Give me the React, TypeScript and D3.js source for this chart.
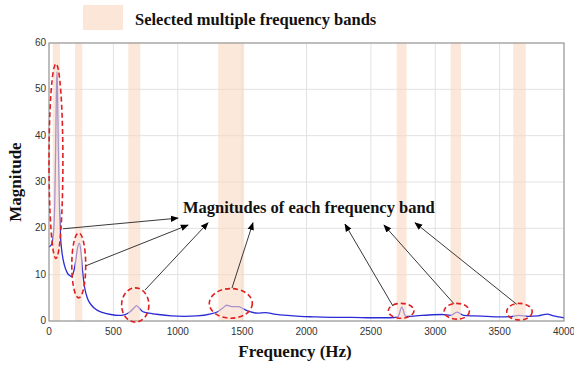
import * as d3 from 'd3'

// spectrum samples
const freq = [0, 20, 35, 45, 52, 58, 62, 66, 72, 80, 90, 100, 120, 140, 160, 175, 190, 205, 220, 235, 248, 260, 275, 300, 330, 370, 420, 480, 540, 590, 630, 660, 680, 700, 730, 780, 850, 950, 1050, 1150, 1250, 1310, 1350, 1380, 1420, 1470, 1510, 1560, 1620, 1680, 1750, 1850, 1950, 2050, 2200, 2350, 2500, 2650, 2710, 2740, 2770, 2850, 2950, 3050, 3120, 3170, 3220, 3300, 3400, 3500, 3600, 3650, 3720, 3800, 3870, 3920, 3960, 4000]
const magnitude = [16, 16.5, 19, 26, 38, 50, 53.8, 50, 38, 26, 18, 15, 12, 10.5, 9.8, 9.6, 10.5, 12.5, 15.5, 16.8, 15, 11, 7.5, 4.8, 3.4, 2.4, 1.8, 1.4, 1.2, 1.4, 2.0, 2.8, 3.3, 2.8, 2.0, 1.7, 1.4, 1.1, 1.0, 1.1, 1.5, 2.0, 2.8, 3.4, 3.1, 3.1, 2.6, 2.0, 1.7, 1.8, 1.5, 1.2, 1.0, 0.9, 0.8, 0.8, 0.7, 0.7, 0.9, 3.0, 1.0, 1.1, 1.3, 1.4, 1.2, 1.9, 1.2, 1.1, 1.0, 0.9, 1.0, 1.2, 1.0, 1.1, 1.5, 1.1, 0.9, 0.7]

// selected frequency bands [start, end] in Hz
const bands = [[29, 85], [202, 258], [616, 709], [1314, 1516], [2700, 2778], [3119, 3200], [3606, 3703]]

// highlighted peaks: [centre Hz, centre magnitude, radius Hz, radius magnitude]
const peakMarks = [[54, 34.5, 54, 21], [231, 12, 54, 7], [670, 3.45, 106, 3.7], [1412, 3.8, 167, 3.2], [2735, 2.2, 100, 1.6], [3167, 2.1, 98, 1.7], [3654, 2.0, 99, 1.8]]

// annotation arrows: [from Hz, from mag, to Hz, to mag]
const arrows = [[109, 19.9, 1002, 22.2], [285, 11.9, 1080, 20.7], [746, 6.7, 1235, 21.2], [1421, 7.1, 1584, 21.2], [2672, 3.2, 2299, 20.9], [3146, 3.7, 2602, 20.7], [3633, 3.6, 2843, 21.2]]

const xTicks = [0, 500, 1000, 1500, 2000, 2500, 3000, 3500, 4000]
const yTicks = [0, 10, 20, 30, 40, 50, 60]

export default function App() {
  const width = 574
  const height = 365
  const margin = { top: 43, right: 10, bottom: 44, left: 49 }

  const x = d3.scaleLinear().domain([0, 4000]).range([margin.left, width - margin.right])
  const y = d3.scaleLinear().domain([0, 60]).range([height - margin.bottom, margin.top])

  const points = freq.map((f, i) => [f, magnitude[i]])
  const line = d3.line().x(d => x(d[0])).y(d => y(d[1])).curve(d3.curveMonotoneX)

  const serif = '"Liberation Serif", "Times New Roman", serif'
  const sans = '"Liberation Sans", Arial, sans-serif'
  const bandColor = '#fad8c3'

  return (
    <svg width={width} height={height} style={{ position: 'absolute', left: 0, top: 0, background: '#fff' }}>
      <defs>
        <marker id="arrowHead" viewBox="0 0 10 10" refX="9" refY="5" markerWidth="8" markerHeight="8" orient="auto" markerUnits="userSpaceOnUse">
          <path d="M0,1 L10,5 L0,9 Z" fill="#000" />
        </marker>
      </defs>

      {/* legend */}
      <rect x={83} y={5} width={40} height={25} fill={bandColor} opacity={0.65} />
      <text x={135} y={25} fontFamily={serif} fontWeight="bold" fontSize={16.5} fill="#111">Selected multiple frequency bands</text>

      {/* grid */}
      {xTicks.map(t => (
        <line key={'gx' + t} x1={x(t)} x2={x(t)} y1={y(0)} y2={y(60)} stroke="#e2e2e2" strokeWidth={1} />
      ))}
      {yTicks.map(t => (
        <line key={'gy' + t} x1={x(0)} x2={x(4000)} y1={y(t)} y2={y(t)} stroke="#e2e2e2" strokeWidth={1} />
      ))}

      <path d={line(points) || ''} fill="none" stroke="#2b2bd6" strokeWidth={1.3} />

      {/* bands drawn over the trace, so the line shows lilac inside */}
      {bands.map((b, i) => (
        <rect key={'b' + i} x={x(b[0])} width={x(b[1]) - x(b[0])} y={y(60)} height={y(0) - y(60)} fill={bandColor} opacity={0.6} />
      ))}

      {/* axes box */}
      <rect x={x(0)} y={y(60)} width={x(4000) - x(0)} height={y(0) - y(60)} fill="none" stroke="#8a8a8a" strokeWidth={1} />

      {xTicks.map(t => (
        <text key={'tx' + t} x={x(t)} y={y(0) + 14} textAnchor="middle" fontFamily={sans} fontSize={10} fill="#333">{t}</text>
      ))}
      {yTicks.map(t => (
        <text key={'ty' + t} x={x(0) - 3} y={y(t) + 3} textAnchor="end" fontFamily={sans} fontSize={10} fill="#333">{t}</text>
      ))}

      {/* highlighted peaks */}
      {peakMarks.map((e, i) => (
        <ellipse key={'e' + i} cx={x(e[0])} cy={y(e[1])} rx={x(e[2]) - x(0)} ry={y(0) - y(e[3])} fill="none" stroke="#e02020" strokeWidth={1.6} strokeDasharray="5,3" />
      ))}

      {arrows.map((a, i) => (
        <line key={'a' + i} x1={x(a[0])} y1={y(a[1])} x2={x(a[2])} y2={y(a[3])} stroke="#222" strokeWidth={0.9} markerEnd="url(#arrowHead)" />
      ))}

      <text x={183} y={213} fontFamily={serif} fontWeight="bold" fontSize={16.5} fill="#111">Magnitudes of each frequency band</text>

      <text x={295} y={357} textAnchor="middle" fontFamily={serif} fontWeight="bold" fontSize={17} fill="#111">Frequency (Hz)</text>
      <text transform={`translate(21,${(y(0) + y(60)) / 2}) rotate(-90)`} textAnchor="middle" fontFamily={serif} fontWeight="bold" fontSize={17} fill="#111">Magnitude</text>
    </svg>
  )
}
